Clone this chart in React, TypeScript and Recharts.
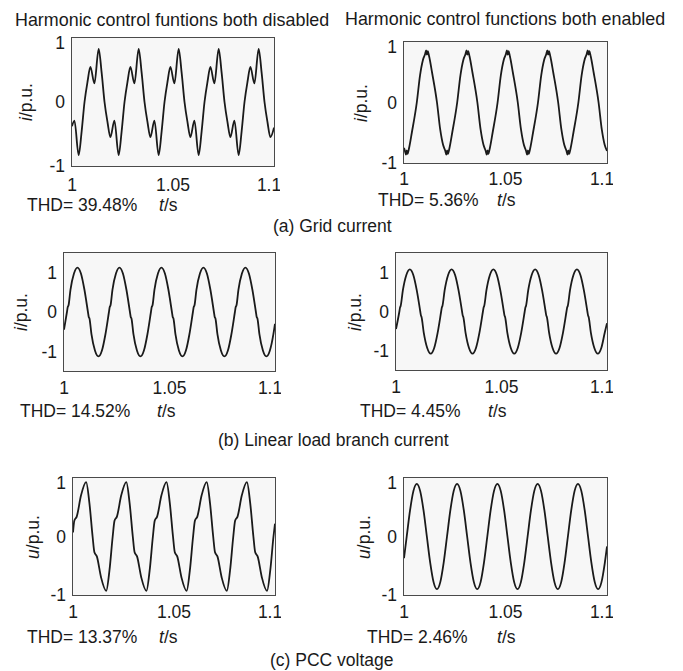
import React from 'react';
import { LineChart, Line, XAxis, YAxis, CartesianGrid } from 'recharts';

// sample times are ms after t = 1 s, values in p.u.

// (a) grid current, harmonic control disabled
const gridOffT = [0, 1.2, 3.3, 4.8, 6.2, 7.7, 9.1, 11.1, 13.2, 14.7, 16.1, 17.6, 19.0, 21.0, 23.1, 24.6, 26.0, 27.5, 28.9, 30.9, 33.0, 34.5, 35.9, 37.4, 38.8, 40.8, 42.9, 44.4, 45.8, 47.3, 48.7, 50.7, 52.8, 54.3, 55.7, 57.2, 58.6, 60.6, 62.7, 64.2, 65.6, 67.1, 68.5, 70.5, 72.6, 74.1, 75.5, 77.0, 78.4, 80.4, 82.5, 84.0, 85.4, 86.9, 88.3, 90.3, 92.4, 93.9, 95.3, 96.8, 98.2, 100];
const gridOffI = [-0.38,
  -0.29, -0.83, -0.45, 0, 0.32, 0.55, 0.29, 0.83, 0.45, 0, -0.32, -0.55,
  -0.29, -0.83, -0.45, 0, 0.32, 0.55, 0.29, 0.83, 0.45, 0, -0.32, -0.55,
  -0.29, -0.83, -0.45, 0, 0.32, 0.55, 0.29, 0.83, 0.45, 0, -0.32, -0.55,
  -0.29, -0.83, -0.45, 0, 0.32, 0.55, 0.29, 0.83, 0.45, 0, -0.32, -0.55,
  -0.29, -0.83, -0.45, 0, 0.32, 0.55, 0.29, 0.83, 0.45, 0, -0.32, -0.55,
  -0.4];

// (a) grid current, harmonic control enabled
const gridOnT = [0, 0.45, 0.95, 1.35, 1.75, 2.45, 3.85,
  6.3, 7.9, 9.3, 10.4, 10.9, 11.3, 11.7, 12.4, 13.8,
  16.25, 17.85, 19.25, 20.35, 20.85, 21.25, 21.65, 22.35, 23.75,
  26.2, 27.8, 29.2, 30.3, 30.8, 31.2, 31.6, 32.3, 33.7,
  36.15, 37.75, 39.15, 40.25, 40.75, 41.15, 41.55, 42.25, 43.65,
  46.1, 47.7, 49.1, 50.2, 50.7, 51.1, 51.5, 52.2, 53.6,
  56.05, 57.65, 59.05, 60.15, 60.65, 61.05, 61.45, 62.15, 63.55,
  66.0, 67.6, 69.0, 70.1, 70.6, 71.0, 71.4, 72.1, 73.5,
  75.95, 77.55, 78.95, 80.05, 80.55, 80.95, 81.35, 82.05, 83.45,
  85.9, 87.5, 88.9, 90.0, 90.5, 90.9, 91.3, 92.0, 93.4,
  95.85, 97.45, 98.85, 100];
const gridOnI = [-0.75, -0.8, -0.86, -0.79, -0.85, -0.76, -0.5,
  0, 0.45, 0.7, 0.8, 0.86, 0.79, 0.85, 0.76, 0.5,
  0, -0.45, -0.7, -0.8, -0.86, -0.79, -0.85, -0.76, -0.5,
  0, 0.45, 0.7, 0.8, 0.86, 0.79, 0.85, 0.76, 0.5,
  0, -0.45, -0.7, -0.8, -0.86, -0.79, -0.85, -0.76, -0.5,
  0, 0.45, 0.7, 0.8, 0.86, 0.79, 0.85, 0.76, 0.5,
  0, -0.45, -0.7, -0.8, -0.86, -0.79, -0.85, -0.76, -0.5,
  0, 0.45, 0.7, 0.8, 0.86, 0.79, 0.85, 0.76, 0.5,
  0, -0.45, -0.7, -0.8, -0.86, -0.79, -0.85, -0.76, -0.5,
  0, 0.45, 0.7, 0.8, 0.86, 0.79, 0.85, 0.76, 0.5,
  0, -0.45, -0.7, -0.8];

// (b) linear load branch current, disabled
const loadOffT = [0,
  1.4, 1.75, 2.15, 3.06, 4.72, 6.38, 8.03, 9.69, 11.35, 11.7, 12.1, 13.01, 14.67, 16.33, 17.98, 19.64,
  21.3, 21.65, 22.05, 22.96, 24.62, 26.28, 27.93, 29.59, 31.25, 31.6, 32.0, 32.91, 34.57, 36.23, 37.88, 39.54,
  41.2, 41.55, 41.95, 42.86, 44.52, 46.18, 47.83, 49.49, 51.15, 51.5, 51.9, 52.81, 54.47, 56.13, 57.78, 59.44,
  61.1, 61.45, 61.85, 62.76, 64.42, 66.08, 67.73, 69.39, 71.05, 71.4, 71.8, 72.71, 74.37, 76.03, 77.68, 79.34,
  81.0, 81.35, 81.75, 82.66, 84.32, 85.98, 87.63, 89.29, 90.95, 91.3, 91.7, 92.61, 94.27, 95.93, 97.58, 99.24,
  100];
const loadOffI = [-0.45,
  0, 0.12, 0.17, 0.565, 0.98, 1.13, 0.98, 0.565, 0, -0.12, -0.17, -0.565, -0.98, -1.13, -0.98, -0.565,
  0, 0.12, 0.17, 0.565, 0.98, 1.13, 0.98, 0.565, 0, -0.12, -0.17, -0.565, -0.98, -1.13, -0.98, -0.565,
  0, 0.12, 0.17, 0.565, 0.98, 1.13, 0.98, 0.565, 0, -0.12, -0.17, -0.565, -0.98, -1.13, -0.98, -0.565,
  0, 0.12, 0.17, 0.565, 0.98, 1.13, 0.98, 0.565, 0, -0.12, -0.17, -0.565, -0.98, -1.13, -0.98, -0.565,
  0, 0.12, 0.17, 0.565, 0.98, 1.13, 0.98, 0.565, 0, -0.12, -0.17, -0.565, -0.98, -1.13, -0.98, -0.565,
  -0.3];

// (b) linear load branch current, enabled
const loadOnT = [0,
  1.6, 1.9, 2.2, 3.25, 4.9, 6.55, 8.2, 9.85, 11.5, 11.8, 12.1, 13.15, 14.8, 16.45, 18.1, 19.75,
  21.4, 21.7, 22.0, 23.05, 24.7, 26.35, 28.0, 29.65, 31.3, 31.6, 31.9, 32.95, 34.6, 36.25, 37.9, 39.55,
  41.2, 41.5, 41.8, 42.85, 44.5, 46.15, 47.8, 49.45, 51.1, 51.4, 51.7, 52.75, 54.4, 56.05, 57.7, 59.35,
  61.0, 61.3, 61.6, 62.65, 64.3, 65.95, 67.6, 69.25, 70.9, 71.2, 71.5, 72.55, 74.2, 75.85, 77.5, 79.15,
  80.8, 81.1, 81.4, 82.45, 84.1, 85.75, 87.4, 89.05, 90.7, 91.0, 91.3, 92.35, 94.0, 95.65, 97.3, 98.95,
  100];
const loadOnI = [-0.45,
  0, 0.1, 0.14, 0.54, 0.935, 1.08, 0.935, 0.54, 0, -0.1, -0.14, -0.54, -0.935, -1.08, -0.935, -0.54,
  0, 0.1, 0.14, 0.54, 0.935, 1.08, 0.935, 0.54, 0, -0.1, -0.14, -0.54, -0.935, -1.08, -0.935, -0.54,
  0, 0.1, 0.14, 0.54, 0.935, 1.08, 0.935, 0.54, 0, -0.1, -0.14, -0.54, -0.935, -1.08, -0.935, -0.54,
  0, 0.1, 0.14, 0.54, 0.935, 1.08, 0.935, 0.54, 0, -0.1, -0.14, -0.54, -0.935, -1.08, -0.935, -0.54,
  0, 0.1, 0.14, 0.54, 0.935, 1.08, 0.935, 0.54, 0, -0.1, -0.14, -0.54, -0.935, -1.08, -0.935, -0.54,
  -0.3];

// (c) PCC voltage, disabled
const pccOffT = [0, 0.65, 1.85, 3.95,
  6.5, 8.1, 9.7, 10.6, 11.8, 13.9, 16.45, 18.05, 19.65, 20.55, 21.75, 23.85,
  26.4, 28.0, 29.6, 30.5, 31.7, 33.8, 36.35, 37.95, 39.55, 40.45, 41.65, 43.75,
  46.3, 47.9, 49.5, 50.4, 51.6, 53.7, 56.25, 57.85, 59.45, 60.35, 61.55, 63.65,
  66.2, 67.8, 69.4, 70.3, 71.5, 73.6, 76.15, 77.75, 79.35, 80.25, 81.45, 83.55,
  86.1, 87.7, 89.3, 90.2, 91.4, 93.5, 96.05, 97.65, 99.25, 100];
const pccOffU = [0.07, 0.27, 0.34, 0.7,
  0.93, 0.58, 0, -0.27, -0.34, -0.7, -0.93, -0.58, 0, 0.27, 0.34, 0.7,
  0.93, 0.58, 0, -0.27, -0.34, -0.7, -0.93, -0.58, 0, 0.27, 0.34, 0.7,
  0.93, 0.58, 0, -0.27, -0.34, -0.7, -0.93, -0.58, 0, 0.27, 0.34, 0.7,
  0.93, 0.58, 0, -0.27, -0.34, -0.7, -0.93, -0.58, 0, 0.27, 0.34, 0.7,
  0.93, 0.58, 0, -0.27, -0.34, -0.7, -0.93, -0.58, 0, 0.22];

// (c) PCC voltage, enabled
const pccOnT = [0, 1.34, 2.99, 4.65,
  6.3, 7.95, 9.61, 11.26, 12.92, 14.57, 16.23, 17.88, 19.53, 21.19, 22.84, 24.49,
  26.15, 27.8, 29.46, 31.11, 32.77, 34.42, 36.08, 37.73, 39.38, 41.04, 42.69, 44.34,
  46.0, 47.65, 49.31, 50.96, 52.62, 54.27, 55.93, 57.58, 59.23, 60.89, 62.54, 64.19,
  65.85, 67.5, 69.16, 70.81, 72.47, 74.12, 75.78, 77.43, 79.08, 80.74, 82.39, 84.04,
  85.7, 87.35, 89.01, 90.66, 92.32, 93.97, 95.63, 97.28, 98.93, 100];
const pccOnU = [-0.37, 0, 0.45, 0.78,
  0.9, 0.78, 0.45, 0, -0.45, -0.78, -0.9, -0.78, -0.45, 0, 0.45, 0.78,
  0.9, 0.78, 0.45, 0, -0.45, -0.78, -0.9, -0.78, -0.45, 0, 0.45, 0.78,
  0.9, 0.78, 0.45, 0, -0.45, -0.78, -0.9, -0.78, -0.45, 0, 0.45, 0.78,
  0.9, 0.78, 0.45, 0, -0.45, -0.78, -0.9, -0.78, -0.45, 0, 0.45, 0.78,
  0.9, 0.78, 0.45, 0, -0.45, -0.78, -0.9, -0.78, -0.45, -0.17];

const thdLabels = ['THD= 39.48%', 'THD= 5.36%', 'THD= 14.52%', 'THD= 4.45%', 'THD= 13.37%', 'THD= 2.46%'];
const xTicks = [1, 1.05, 1.1];
const xTickLabels = ['1', '1.05', '1.1'];
const yTicks = [-1, 0, 1];

const FONT = '"Liberation Sans", Arial, Helvetica, sans-serif';
const FS = 17.5;
const BOX = '#4a4a4a';
const INK = '#1a1a1a';

// plot box [x, y, w, h] and text anchors for each panel
const panels = [
  { box: [72, 38, 202, 128], t: gridOffT, v: gridOffI, yMax: 1, sym: 'i', yLabX: 27, thd: thdLabels[0], thdX: 27, tsX: 159, textY: 206, gap: 13 },
  { box: [404, 42, 203, 121], t: gridOnT, v: gridOnI, yMax: 1, sym: 'i', yLabX: 362, thd: thdLabels[1], thdX: 378, tsX: 497, textY: 201, gap: 10 },
  { box: [64, 253, 211, 118], t: loadOffT, v: loadOffI, yMax: 1.5, sym: 'i', yLabX: 22, thd: thdLabels[2], thdX: 20, tsX: 157, textY: 412, gap: 11 },
  { box: [396, 253, 211, 117], t: loadOnT, v: loadOnI, yMax: 1.5, sym: 'i', yLabX: 356, thd: thdLabels[3], thdX: 360, tsX: 488, textY: 412, gap: 11 },
  { box: [73, 478, 202, 117], t: pccOffT, v: pccOffU, yMax: 1, sym: 'u', yLabX: 34, thd: thdLabels[4], thdX: 27, tsX: 159, textY: 638, gap: 11 },
  { box: [404, 478, 203, 117], t: pccOnT, v: pccOnU, yMax: 1, sym: 'u', yLabX: 365, thd: thdLabels[5], thdX: 367, tsX: 497, textY: 638, gap: 11 },
];

const ML = 50;
const MT = 6;
const MR = 6;
const XH = 36;

const txt: React.CSSProperties = {
  position: 'absolute',
  fontFamily: FONT,
  fontSize: FS,
  lineHeight: 1,
  color: INK,
  whiteSpace: 'nowrap',
};

function Panel({ p }: { p: typeof panels[number] }) {
  const [bx, by, bw, bh] = p.box;
  const data = p.t.map((ms, i) => ({ t: 1 + ms / 1000, v: p.v[i] }));
  const tickStyle = { fill: INK, fontSize: FS, fontFamily: FONT };
  return (
    <>
      <div style={{ position: 'absolute', left: bx - ML, top: by - MT }}>
        <LineChart width={bw + ML + MR} height={bh + MT + XH} data={data} margin={{ top: MT, right: MR, bottom: 0, left: 0 }}>
          <CartesianGrid xAxisId="x" yAxisId="y" horizontal={false} vertical={false} fill="#f7f7f7" />
          <XAxis xAxisId="x" dataKey="t" type="number" domain={[1, 1.1]} ticks={xTicks} allowDataOverflow
            tickFormatter={(val: number) => xTickLabels[xTicks.indexOf(val)] ?? String(val)}
            height={XH} tickLine={false} tickSize={0} tickMargin={p.gap} axisLine={false} tick={tickStyle} />
          <XAxis xAxisId="xb" dataKey="t" type="number" domain={[1, 1.1]} ticks={xTicks} allowDataOverflow
            mirror height={0} tick={false} tickSize={3} axisLine={false} tickLine={{ stroke: BOX }} />
          <XAxis xAxisId="xt" dataKey="t" orientation="top" type="number" domain={[1, 1.1]} ticks={xTicks} allowDataOverflow
            mirror height={0} tick={false} tickSize={3} axisLine={false} tickLine={{ stroke: BOX }} />
          <YAxis yAxisId="y" dataKey="v" type="number" domain={[-p.yMax, p.yMax]} ticks={yTicks} allowDataOverflow
            width={ML} tickLine={false} tickSize={0} tickMargin={7} axisLine={false} tick={tickStyle} />
          <YAxis yAxisId="yl" dataKey="v" type="number" domain={[-p.yMax, p.yMax]} ticks={yTicks} allowDataOverflow
            mirror width={0} tick={false} tickSize={3} axisLine={false} tickLine={{ stroke: BOX }} />
          <YAxis yAxisId="yr" dataKey="v" orientation="right" type="number" domain={[-p.yMax, p.yMax]} ticks={yTicks} allowDataOverflow
            mirror width={0} tick={false} tickSize={3} axisLine={false} tickLine={{ stroke: BOX }} />
          <Line xAxisId="x" yAxisId="y" dataKey="v" type="monotone" stroke={INK} strokeWidth={1.8} dot={false} isAnimationActive={false} />
        </LineChart>
      </div>
      {/* axes frame */}
      <div style={{ position: 'absolute', left: bx - 1, top: by - 1, width: bw, height: bh, border: `1.3px solid ${BOX}`, pointerEvents: 'none' }} />
      <div style={{ ...txt, left: p.yLabX, top: by + bh / 2, transform: 'translate(-50%, -50%) rotate(-90deg)' }}>
        <i>{p.sym}</i>/p.u.
      </div>
      <div style={{ ...txt, left: p.thdX, top: p.textY, transform: 'translateY(-50%)' }}>{p.thd}</div>
      <div style={{ ...txt, left: p.tsX, top: p.textY, transform: 'translateY(-50%)' }}>
        <i>t</i>/s
      </div>
    </>
  );
}

export default function App() {
  return (
    <div style={{ position: 'absolute', left: 0, top: 0, width: 683, height: 671, background: '#fff', overflow: 'hidden' }}>
      <div style={{ ...txt, fontSize: 17.9, left: 15, top: 21, transform: 'translateY(-50%)' }}>Harmonic control funtions both disabled</div>
      <div style={{ ...txt, fontSize: 17.9, left: 345, top: 20, transform: 'translateY(-50%)' }}>Harmonic control functions both enabled</div>
      {panels.map((p, i) => (
        <Panel key={i} p={p} />
      ))}
      <div style={{ ...txt, left: 273, top: 227, transform: 'translateY(-50%)' }}>(a) Grid current</div>
      <div style={{ ...txt, left: 218, top: 441, transform: 'translateY(-50%)' }}>(b) Linear load branch current</div>
      <div style={{ ...txt, left: 270, top: 661, transform: 'translateY(-50%)' }}>(c) PCC voltage</div>
    </div>
  );
}
